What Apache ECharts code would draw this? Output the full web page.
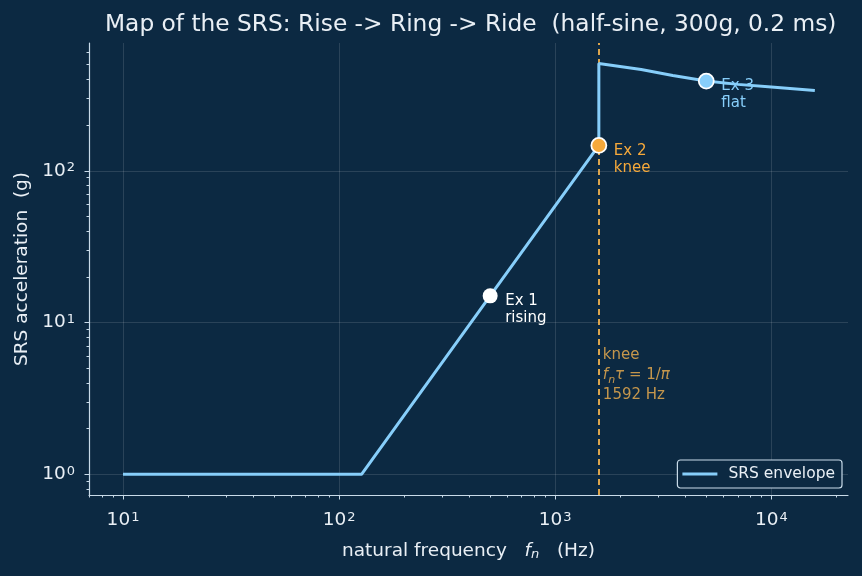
<!DOCTYPE html>
<html>
<head>
<meta charset="utf-8">
<script src="https://cdn.jsdelivr.net/npm/echarts@6/dist/echarts.min.js"></script>
<style>
  html, body { margin: 0; padding: 0; background: #0c2942; }
  #chart { width: 862px; height: 576px; }
</style>
</head>
<body>
<div id="chart"></div>
<script>
// SRS envelope
const envFreq = [10, 127, 500, 1592, 1592, 2500, 3500, 5000, 7000, 10000, 15900];
const envAcc  = [1, 1, 15, 147, 510, 465, 425, 390, 371, 357, 338];

// worked examples
const exFreq   = [500, 1592, 5000];
const exAcc    = [15, 147, 390];
const exLabels = ['Ex 1\nrising', 'Ex 2\nknee', 'Ex 3\nflat'];
const exColors = ['#ffffff', '#f6a93b', '#87cefa'];
const exTextColors = ['#ffffff', '#f6a93b', '#87cefa'];

const kneeFreq = 1592;
const kneeTextAcc = 4.5;

const xMajor = [10, 100, 1000, 10000];
const yMajor = [1, 10, 100];
const xMinor = [];
[1, 10, 100, 1000, 10000].forEach(d => { for (let k = 2; k <= 9; k++) { if (d * k > 6.96 && d * k < 22640) xMinor.push(d * k); } });
const yMinor = [];
[0.1, 1, 10, 100].forEach(d => { for (let k = 2; k <= 9; k++) { if (d * k > 0.731 && d * k < 695) yMinor.push(d * k); } });

const bg = '#0c2942';
const fg = '#e9eff5';
const spine = '#c9dbe9';
const orange = '#f2b24f';
const font = 'DejaVu Sans';

const powLabel = v => '{b|10}{s|' + Math.round(Math.log10(v)) + '}';
const powRich = {
  b: { fontSize: 18.5, color: fg, fontFamily: font },
  s: { fontSize: 13, color: fg, fontFamily: font, verticalAlign: 'top', padding: [0, 0, 0, 1] }
};

const chart = echarts.init(document.getElementById('chart'));
const option = {
  backgroundColor: bg,
  animation: false,
  textStyle: { fontFamily: font },
  title: {
    text: 'Map of the SRS: Rise -> Ring -> Ride  (half-sine, 300g, 0.2 ms)',
    left: 100,
    top: 8,
    textStyle: { color: fg, fontSize: 23.3, fontWeight: 'normal', fontFamily: font }
  },
  legend: {
    data: ['SRS envelope'],
    right: 20,
    bottom: 88,
    orient: 'vertical',
    backgroundColor: bg,
    borderColor: spine,
    borderWidth: 1.2,
    borderRadius: 3,
    padding: [6, 7, 6, 5],
    itemWidth: 35,
    itemHeight: 3,
    itemGap: 4,
    textStyle: { color: fg, fontSize: 15.5, fontFamily: font, padding: [0, 0, 0, 6] },
    icon: 'rect'
  },
  grid: { left: 89, right: 14, top: 43, bottom: 81, containLabel: false },
  xAxis: [
    {
      type: 'log', logBase: 10, min: 6.96, max: 22640,
      name: '{t|natural frequency   }{i|f}{sub|n}{t|   (Hz)}',
      nameLocation: 'middle', nameGap: 46,
      nameTextStyle: {
        rich: {
          t: { fontSize: 18.5, color: fg, fontFamily: font },
          i: { fontSize: 18.5, color: fg, fontFamily: font, fontStyle: 'italic' },
          sub: { fontSize: 13, color: fg, fontFamily: font, fontStyle: 'italic', verticalAlign: 'bottom', padding: [7, 0, 0, 0] }
        }
      },
      axisLine: { show: true, lineStyle: { color: spine, width: 1.2 } },
      axisTick: { show: true, length: 4.5, lineStyle: { color: spine }, customValues: xMajor },
      axisLabel: { color: fg, margin: 16, customValues: xMajor, formatter: powLabel, rich: powRich },
      splitLine: { show: true, lineStyle: { color: 'rgba(255,255,255,0.16)', width: 0.8 } }
    },
    {
      type: 'log', logBase: 10, min: 6.96, max: 22640, position: 'bottom',
      axisLine: { show: false },
      axisTick: { show: true, length: 2.5, lineStyle: { color: spine }, customValues: xMinor },
      axisLabel: { show: false },
      splitLine: { show: false }
    }
  ],
  yAxis: [
    {
      type: 'log', logBase: 10, min: 0.731, max: 695,
      name: 'SRS acceleration  (g)',
      nameLocation: 'middle', nameGap: 57,
      nameTextStyle: { color: fg, fontSize: 18.5, fontFamily: font },
      axisLine: { show: true, lineStyle: { color: spine, width: 1.2 } },
      axisTick: { show: true, length: 4.5, lineStyle: { color: spine }, customValues: yMajor },
      axisLabel: { color: fg, margin: 14, customValues: yMajor, formatter: powLabel, rich: powRich },
      splitLine: { show: true, lineStyle: { color: 'rgba(255,255,255,0.16)', width: 0.8 } }
    },
    {
      type: 'log', logBase: 10, min: 0.731, max: 695, position: 'left',
      axisLine: { show: false },
      axisTick: { show: true, length: 2.5, lineStyle: { color: spine }, customValues: yMinor },
      axisLabel: { show: false },
      splitLine: { show: false }
    }
  ],
  series: [
    {
      name: 'SRS envelope',
      type: 'line',
      data: envFreq.map((f, i) => [f, envAcc[i]]),
      showSymbol: false,
      symbol: 'none',
      lineStyle: { color: '#87cefa', width: 3 },
      itemStyle: { color: '#87cefa' },
      z: 3,
      markLine: {
        silent: true,
        symbol: ['none', 'none'],
        label: { show: false },
        lineStyle: { color: orange, type: [6, 4], width: 1.8 },
        data: [{ xAxis: kneeFreq }],
        z: 2
      }
    },
    {
      // example labels sit under the envelope line
      name: 'exampleLabels',
      type: 'scatter',
      z: 2,
      symbolSize: 16,
      itemStyle: { color: 'rgba(0,0,0,0)', opacity: 1 },
      data: exFreq.map((f, i) => ({
        value: [f, exAcc[i]],
        label: { formatter: exLabels[i], color: exTextColors[i] }
      })),
      label: {
        show: true, position: 'right', distance: 7, offset: [0, 14],
        fontSize: 15, lineHeight: 17, fontFamily: font, align: 'left', opacity: 1
      }
    },
    {
      name: 'examples',
      type: 'scatter',
      z: 4,
      symbolSize: 15,
      data: exFreq.map((f, i) => ({
        value: [f, exAcc[i]],
        itemStyle: { color: exColors[i], opacity: 1, borderColor: '#ffffff', borderWidth: i === 0 ? 0 : 1.8 }
      }))
    },
    {
      name: 'kneeText',
      type: 'scatter',
      z: 4,
      symbolSize: 0,
      data: [[kneeFreq, kneeTextAcc]],
      label: {
        show: true, position: 'right', distance: 4,
        formatter: '{t|knee}\n{i|f}{sub|n}{i|τ}{t| = 1/}{i|π}\n{t|1592 Hz}',
        rich: {
          t: { fontSize: 15, color: orange, fontFamily: font, lineHeight: 20 },
          i: { fontSize: 15, color: orange, fontFamily: font, fontStyle: 'italic', lineHeight: 20 },
          sub: { fontSize: 11, color: orange, fontFamily: font, fontStyle: 'italic', verticalAlign: 'bottom', lineHeight: 20 }
        }
      }
    }
  ]
};
chart.setOption(option);
</script>
</body>
</html>
